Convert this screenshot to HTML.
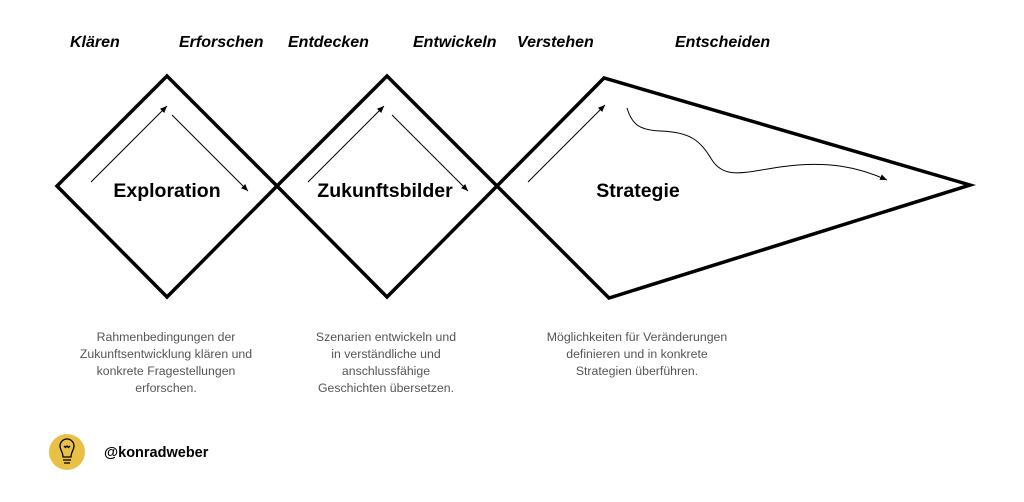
<!DOCTYPE html>
<html><head><meta charset="utf-8"><style>
body{margin:0;background:#fff;width:1024px;height:497px;overflow:hidden;font-family:"Liberation Sans",Arial,sans-serif}
</style></head><body>
<svg width="1024" height="497" viewBox="0 0 1024 497" xmlns="http://www.w3.org/2000/svg" font-family="Liberation Sans, Arial, sans-serif">
<defs><marker id="a" markerWidth="8" markerHeight="8" refX="7" refY="3" orient="auto" markerUnits="userSpaceOnUse"><path d="M0,0 L7,3 L0,6z" fill="#000"/></marker></defs>
<g font-size="16" font-weight="bold" font-style="italic" fill="#000">
<text x="70" y="47">Klären</text><text x="179" y="47">Erforschen</text><text x="288" y="47">Entdecken</text>
<text x="413" y="47">Entwickeln</text><text x="517" y="47">Verstehen</text><text x="675" y="47">Entscheiden</text>
</g>
<g fill="none" stroke="#000" stroke-width="3.5" stroke-linejoin="miter">
<polygon points="57,186 167,76 277,186 167,297"/>
<polygon points="277,186 387,76 497,186 387,297"/>
<polygon points="497,186 604,78 970,185 609,298"/>
</g>
<g stroke="#000" stroke-width="1" fill="none">
<line x1="91" y1="182" x2="167" y2="106" marker-end="url(#a)"/>
<line x1="172" y1="115" x2="248" y2="191" marker-end="url(#a)"/>
<line x1="308" y1="182" x2="384" y2="106" marker-end="url(#a)"/>
<line x1="392" y1="115" x2="468" y2="191" marker-end="url(#a)"/>
<line x1="528" y1="182" x2="605" y2="105" marker-end="url(#a)"/>
<path d="M627,108 C632,125 640,130 660,131 C690,132 700,140 712,160 C725,180 745,172 780,167 C830,160 860,168 887,180" marker-end="url(#a)"/>
</g>
<g font-size="19.5" font-weight="bold" text-anchor="middle" fill="#000">
<text x="167" y="197">Exploration</text>
<text x="385" y="197">Zukunftsbilder</text>
<text x="638" y="197">Strategie</text>
</g>
<g font-size="12.3" text-anchor="middle" fill="#555">
<text x="166" y="341">Rahmenbedingungen der</text><text x="166" y="358">Zukunftsentwicklung klären und</text>
<text x="166" y="375">konkrete Fragestellungen</text><text x="166" y="392">erforschen.</text>
<text x="386" y="341">Szenarien entwickeln und</text><text x="386" y="358">in verständliche und</text>
<text x="386" y="375">anschlussfähige</text><text x="386" y="392">Geschichten übersetzen.</text>
<text x="637" y="341">Möglichkeiten für Veränderungen</text><text x="637" y="358">definieren und in konkrete</text>
<text x="637" y="375">Strategien überführen.</text>
</g>
<circle cx="67" cy="452" r="18" fill="#e9c046"/>
<g stroke="#000" stroke-width="1.3" fill="none">
<path d="M63,457 C63,452 60,450 60,446 A7,7 0 1 1 74,446 C74,450 71,452 71,457 Z"/>
<line x1="63" y1="460" x2="71" y2="460"/><line x1="64" y1="463" x2="70" y2="463"/>
<path d="M64,446 l1.5,1.5 l1.5,-1.5 l1.5,1.5 l1.5,-1.5"/>
</g>
<text x="104" y="457" font-size="14.5" font-weight="bold" fill="#000">@konradweber</text>
</svg>
</body></html>
